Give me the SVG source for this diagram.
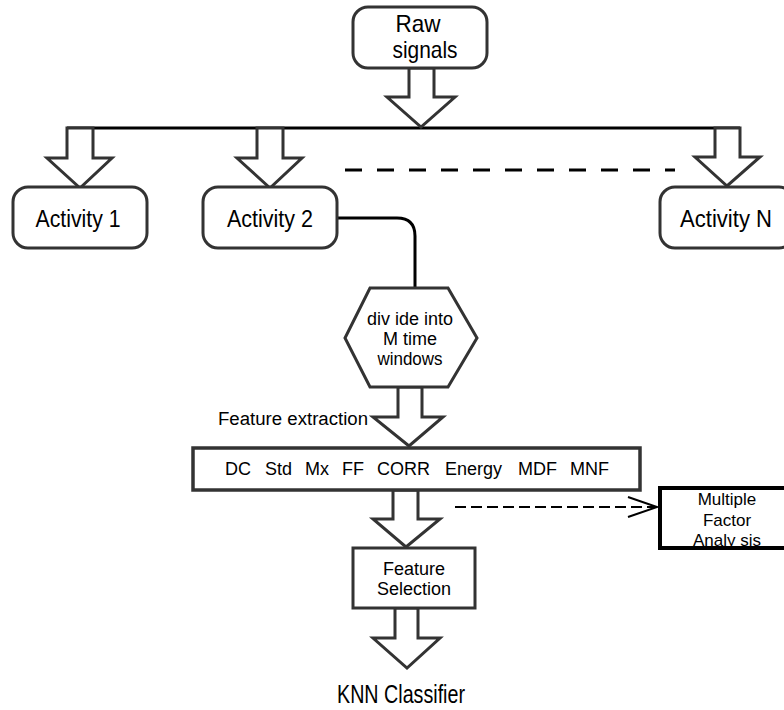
<svg xmlns="http://www.w3.org/2000/svg" width="784" height="710" viewBox="0 0 784 710">
<style>
text{font-family:"Liberation Sans",Arial,sans-serif;fill:#000;text-anchor:middle}
.rbox{fill:#fff;stroke:#333;stroke-width:3}
.box{fill:#fff;stroke:#333;stroke-width:3.5}
.barrow{fill:#fff;stroke:#333;stroke-width:3;stroke-linejoin:miter}
.line{fill:none;stroke:#000;stroke-width:3}
.lab{font-size:23px;lengthAdjust:spacingAndGlyphs}
</style>
<rect width="784" height="710" fill="#fff"/>
<g id="connectors">
<line class="line" x1="67" y1="128" x2="740" y2="128"/>
<line class="line" x1="345" y1="170" x2="675" y2="170" stroke-dasharray="17 15"/>
<path class="line" d="M337 218 H397 Q415 218 415 236 V289"/>
<line x1="455" y1="507" x2="655" y2="507" stroke="#000" stroke-width="2" stroke-dasharray="11 5"/>
<polyline points="628,497 657,507 628,517" fill="none" stroke="#000" stroke-width="2"/>
<polygon class="barrow" points="409,68 434,68 434,97 455,97 421,127 387,97 409,97"/>
<polygon class="barrow" points="67,128 93,128 93,158 112,158 80,188 47,158 67,158"/>
<polygon class="barrow" points="257,128 283,128 283,158 302,158 270,188 237,158 257,158"/>
<polygon class="barrow" points="715,128 740,128 740,157 760,157 727,186 695,157 715,157"/>
<polygon class="barrow" points="398,387 422,387 422,417 443,417 409,446 373,417 398,417"/>
<polygon class="barrow" points="393,490 418,490 418,519 440,519 406,547 373,519 393,519"/>
<polygon class="barrow" points="395,608 418,608 418,638 440,638 407,668 373,638 395,638"/>
</g>
<g id="raw-signals">
<rect class="rbox" x="353" y="7" width="134" height="61" rx="15"/>
<text x="418" y="32" font-size="24" textLength="45" lengthAdjust="spacingAndGlyphs">Raw</text>
<text x="425" y="58" font-size="24" textLength="65" lengthAdjust="spacingAndGlyphs">signals</text>
</g>
<g id="activity-1">
<rect class="rbox" x="13" y="187" width="134" height="61" rx="15"/>
<text x="78" y="227" font-size="23" textLength="85" lengthAdjust="spacingAndGlyphs">Activity 1</text>
</g>
<g id="activity-2">
<rect class="rbox" x="203" y="187" width="134" height="61" rx="15"/>
<text x="270" y="227" font-size="23" textLength="86" lengthAdjust="spacingAndGlyphs">Activity 2</text>
</g>
<g id="activity-n">
<rect class="rbox" x="660" y="187" width="134" height="61" rx="15"/>
<text x="726" y="227" font-size="23" textLength="92" lengthAdjust="spacingAndGlyphs">Activity N</text>
</g>
<g id="divide">
<polygon class="rbox" points="370,288 448,288 477,338 448,387 370,387 345,338"/>
<text x="410" y="325" font-size="18" textLength="86" lengthAdjust="spacingAndGlyphs">div ide into</text>
<text x="410" y="345" font-size="18">M time</text>
<text x="410" y="365" font-size="18" textLength="65" lengthAdjust="spacingAndGlyphs">windows</text>
</g>
<g id="feature-extraction-label">
<text x="218" y="425" font-size="18" style="text-anchor:start" textLength="150" lengthAdjust="spacingAndGlyphs">Feature extraction</text>
</g>
<g id="features">
<rect class="box" x="193" y="448" width="447" height="42"/>
<g font-size="18">
<text x="225" y="475" style="text-anchor:start">DC</text>
<text x="265" y="475" style="text-anchor:start">Std</text>
<text x="305" y="475" style="text-anchor:start">Mx</text>
<text x="342" y="475" style="text-anchor:start">FF</text>
<text x="377" y="475" style="text-anchor:start">CORR</text>
<text x="445" y="475" style="text-anchor:start">Energy</text>
<text x="518" y="475" style="text-anchor:start">MDF</text>
<text x="570" y="475" style="text-anchor:start">MNF</text>
</g>
</g>
<g id="mfa">
<rect x="660" y="488" width="134" height="60" fill="#fff" stroke="#000" stroke-width="4"/>
<text x="727" y="505" font-size="17">Multiple</text>
<text x="727" y="526" font-size="17">Factor</text>
<text x="727" y="546" font-size="17">Analy sis</text>
</g>
<g id="feature-selection">
<rect class="rbox" x="353" y="548" width="122" height="60"/>
<text x="414" y="575" font-size="18">Feature</text>
<text x="414" y="595" font-size="18">Selection</text>
</g>
<g id="knn">
<text x="401" y="703" font-size="25" textLength="128" lengthAdjust="spacingAndGlyphs">KNN Classifier</text>
</g>
</svg>
